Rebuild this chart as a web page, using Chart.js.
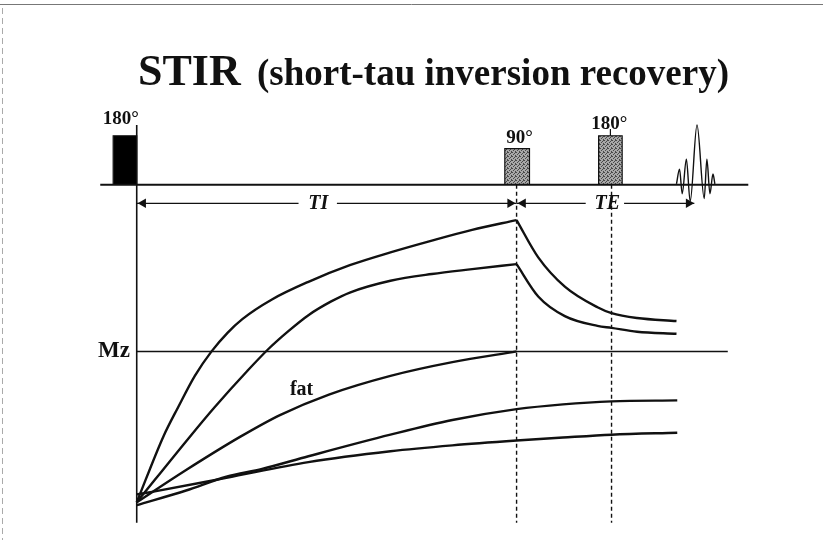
<!DOCTYPE html>
<html>
<head>
<meta charset="utf-8">
<script src="https://cdn.jsdelivr.net/npm/chart.js@4"></script>
<style>
  body { margin: 0; background: #fff; }
  #wrap { position: relative; width: 823px; height: 544px; }
</style>
</head>
<body>
<div id="wrap"><canvas id="stirChart" width="823" height="544"></canvas></div>
<script>
// ====================== DATA ======================
// x = time (90° pulse at TI = 100), y = Mz (null line = 0, fully inverted = -1)
const TI = 100;
const TE = 125;
const seqBase = 1.104;   // level of the pulse sequence baseline

// recovery curves [time, Mz]
const curveA = [[0,-1.0],[7.0,-0.565],[10.9,-0.370],[15.3,-0.162],[19.7,0],[23.9,0.123],[27.8,0.214],
  [35.6,0.344],[45.2,0.461],[56.1,0.571],[66.8,0.656],[77.7,0.734],[88.3,0.805],[100,0.870]];
const curveADecay = [[100,0.870],[105.7,0.623],[112.7,0.429],[121.3,0.292],[125,0.253],[131.7,0.221],[142.1,0.201]];
const curveB = [[0,-1.0],[14.0,-0.565],[20.5,-0.370],[29.1,-0.130],[34.8,0.019],[40.0,0.136],[45.2,0.240],
  [51.2,0.331],[56.1,0.390],[66.8,0.468],[77.7,0.513],[88.3,0.545],[100,0.578]];
const curveBDecay = [[100,0.578],[105.7,0.364],[112.7,0.234],[121.3,0.169],[125,0.156],[131.7,0.130],[142.1,0.117]];
const curveFat = [[0,-1.0],[13.0,-0.786],[27.3,-0.565],[37.7,-0.422],[50.6,-0.286],[66.8,-0.162],[83.1,-0.071],[100,0]];
const curveD = [[0,-1.019],[13.0,-0.922],[23.6,-0.831],[33.0,-0.779],[45.2,-0.695],[66.8,-0.552],[83.1,-0.455],
  [100,-0.383],[112.2,-0.351],[125,-0.331],[142.3,-0.325]];
const curveE = [[0,-0.948],[4.4,-0.929],[23.6,-0.838],[45.2,-0.734],[66.8,-0.662],[83.1,-0.623],[100,-0.591],
  [112.2,-0.571],[125,-0.552],[142.3,-0.539]];

// RF pulses: [start, end, top]
const pulses = [[-6.2, 0, 1.429], [96.9, 103.4, 1.344], [121.6, 127.8, 1.429]];
const pulseLabels = ["180°", "90°", "180°"];
const pulseLabelPos = [[-4.2, 1.506], [100.8, 1.383], [124.4, 1.474]];

// echo signal
const echo = [[142.1,1.110],[142.9,1.208],[143.6,1.045],[144.7,1.273],[145.7,0.994],[147.5,1.5],
  [149.4,1.013],[150.1,1.273],[150.9,1.045],[151.7,1.175],[152.2,1.110]];

// timing arrows
const arrowY = 0.981;
const tiArrow = [[0, 42.6], [52.7, TI]];
const teArrow = [[TI, 118.2], [128.3, 146.8]];
const arrowHeads = [[1.7, -90], [98.3, 90], [101.7, -90], [145.3, 90]];

// ====================== HELPERS ======================
const pts = arr => arr.map(p => ({ x: p[0], y: p[1] }));
const ink = "#111";

// stippled grey like the scanned pulse blocks
function stipple() {
  const c = document.createElement("canvas");
  c.width = 4; c.height = 4;
  const g = c.getContext("2d");
  g.fillStyle = "#a8a8a8";
  g.fillRect(0, 0, 4, 4);
  g.fillStyle = "#4a4a4a";
  [[0,0],[2,1],[1,2],[3,3],[3,0]].forEach(p => g.fillRect(p[0], p[1], 1, 1));
  return g.createPattern(c, "repeat");
}

function lineSet(data, width, extra) {
  return Object.assign({
    data: pts(data), showLine: true, borderColor: ink, borderWidth: width,
    pointRadius: 0, tension: 0, fill: false
  }, extra || {});
}

function curveSet(data) {
  return lineSet(data, 2.4, { cubicInterpolationMode: "monotone" });
}

function arrowSet(segs) {
  const d = [];
  segs.forEach((s, i) => {
    if (i > 0) d.push([ (segs[i - 1][1] + s[0]) / 2, null ]);
    d.push([s[0], arrowY], [s[1], arrowY]);
  });
  return lineSet(d, 1.3, { spanGaps: false });
}

// ====================== DATASETS ======================
const grey = stipple();
const datasets = [
  lineSet([[-9.6, seqBase], [161, seqBase]], 2),
  lineSet([[0, 1.5], [0, -1.136]], 1.6),
  lineSet([[0, 0], [155.6, 0]], 1.5),
  lineSet([[TI, seqBase], [TI, -1.136]], 1.4, { borderDash: [4, 3] }),
  lineSet([[TE, seqBase], [TE, -1.136]], 1.4, { borderDash: [4, 3] }),
  lineSet([[124.7, 1.474], [124.7, 1.429]], 1.2),
  arrowSet(tiArrow),
  arrowSet(teArrow),
  {
    data: pts(arrowHeads.map(a => [a[0], arrowY])), showLine: false,
    pointStyle: "triangle", pointRadius: 5.5, pointRotation: arrowHeads.map(a => a[1]),
    backgroundColor: ink, borderColor: ink, borderWidth: 0
  }
];

pulses.forEach((p, i) => {
  datasets.push(lineSet([[p[0], seqBase], [p[0], p[2]], [p[1], p[2]], [p[1], seqBase]], 1.2, {
    fill: { value: seqBase },
    backgroundColor: i === 0 ? "#000" : grey
  }));
});

[curveA, curveADecay, curveB, curveBDecay, curveFat, curveD, curveE].forEach(c => datasets.push(curveSet(c)));
datasets.push(lineSet(echo, 1.4, { cubicInterpolationMode: "monotone" }));

// ====================== TEXT ======================
const labelPlugin = {
  id: "stirLabels",
  afterDatasetsDraw(chart) {
    const { ctx, scales: { x, y } } = chart;
    const px = v => x.getPixelForValue(v);
    const py = v => y.getPixelForValue(v);
    ctx.save();
    ctx.fillStyle = ink;
    ctx.textBaseline = "alphabetic";

    // title
    ctx.textAlign = "left";
    ctx.font = 'bold 44px "Liberation Serif"';
    ctx.fillText("STIR", 138, 85);
    ctx.font = 'bold 37px "Liberation Serif"';
    ctx.fillText("(short-tau inversion recovery)", 257, 85);

    // pulse labels
    ctx.textAlign = "center";
    ctx.font = 'bold 19px "Liberation Serif"';
    pulseLabels.forEach((t, i) => ctx.fillText(t, px(pulseLabelPos[i][0]), py(pulseLabelPos[i][1])));

    // timing labels
    ctx.font = 'italic bold 20px "Liberation Serif"';
    ctx.fillText("TI", px(47.8), py(0.942));
    ctx.fillText("TE", px(123.9), py(0.942));

    ctx.font = 'bold 20px "Liberation Serif"';
    ctx.fillText("fat", px(43.4), py(-0.286));

    ctx.textAlign = "right";
    ctx.font = 'bold 23px "Liberation Serif"';
    ctx.fillText("Mz", px(-1.8), py(-0.039));

    // scanned page frame
    ctx.strokeStyle = "#777";
    ctx.lineWidth = 1;
    ctx.beginPath();
    ctx.moveTo(0, 4.5); ctx.lineTo(823, 4.5);
    ctx.stroke();
    ctx.setLineDash([6, 4]);
    ctx.strokeStyle = "#aaa";
    ctx.beginPath();
    ctx.moveTo(2.5, 8); ctx.lineTo(2.5, 540);
    ctx.stroke();
    ctx.restore();
  }
};

// ====================== CHART ======================
new Chart(document.getElementById("stirChart").getContext("2d"), {
  type: "scatter",
  data: { datasets },
  options: {
    responsive: false,
    animation: false,
    layout: { padding: 0 },
    plugins: { legend: { display: false }, tooltip: { enabled: false } },
    scales: {
      x: { type: "linear", display: false, min: -34.545, max: 179.22 },
      y: { type: "linear", display: false, min: -1.240, max: 2.292 }
    }
  },
  plugins: [labelPlugin]
});
</script>
</body>
</html>
